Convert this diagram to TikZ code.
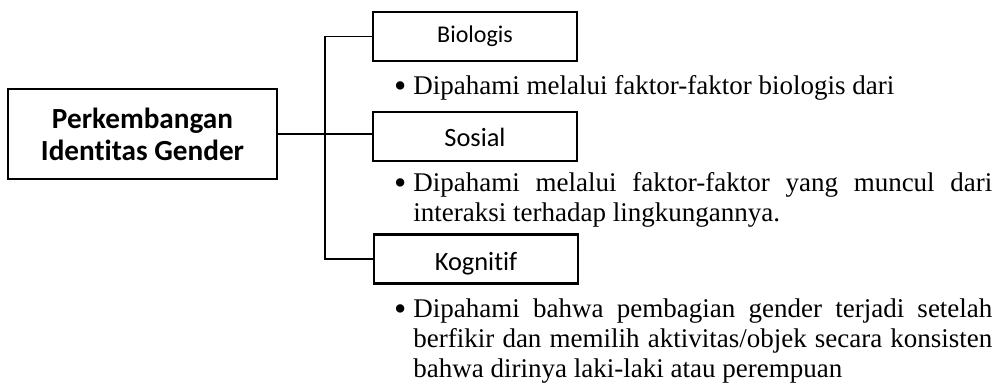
\documentclass[tikz,border=0pt]{standalone}
\usepackage{fontspec}
\setmainfont{Liberation Serif}
\newfontfamily\calibri[Ligatures=NoCommon]{Carlito}
\newcommand\nohyph{\hyphenpenalty=10000 \exhyphenpenalty=10000 }
\newcommand\mybul{\llap{\raisebox{-1.3pt}{\fontsize{17.5}{15}\selectfont\textbullet}\hspace{3.5pt}}}
\begin{document}
\begin{tikzpicture}[x=0.5pt,y=-0.5pt,
  mainbox/.style={draw,line width=1.25pt,minimum width=134.5pt,minimum height=45pt,inner sep=0pt,align=center,
    font=\calibri\bfseries\fontsize{14.6}{16}\selectfont},
  catbox/.style={draw,line width=1.25pt,minimum width=102pt,minimum height=24.5pt,inner sep=0pt,
    font=\calibri\fontsize{12}{14}\selectfont},
  catlabel/.style={anchor=base,inner sep=0pt,font=\calibri\fontsize{13.2}{14}\selectfont},
  conn/.style={line width=0.55pt},
  bullettext/.style={anchor=base west,inner sep=0pt,text width=289.5pt,align=justify,
    font=\fontsize{13.5}{15}\selectfont}]
\useasboundingbox (0,0) rectangle (1000,384);
\node[mainbox] (main) at (142.5,134) {Perkembangan\\Identitas Gender};
\node[catbox] (bio) at (475,36.5) {Biologis};
\node[catbox] (sos) at (475,136.5) {};
\node[catlabel] (sosl) at (475,147) {Sosial};
\node[catbox] (kog) at (476,259) {};
\begin{scope}
  \clip (376,236) rectangle (577,274.5);
  \node[catlabel] (kogl) at (476,271) {Kognitif};
\end{scope}
\coordinate (trunk) at (325,0);
\draw[conn] (main.east) -- (main.east -| sos.west);
\draw[conn] (bio.west) -- (bio.west -| trunk) -- (kog.west -| trunk) -- (kog.west);
\node[bullettext] (t1) at (413,95) {\nohyph\mybul Dipahami melalui faktor-faktor biologis dari};
\node[bullettext] (t2) at (413,192) {\nohyph\mybul Dipahami melalui faktor-faktor yang muncul dari\linebreak interaksi terhadap lingkungannya.};
\node[bullettext] (t3) at (413,318) {\nohyph\mybul Dipahami bahwa pembagian gender terjadi setelah\linebreak berfikir dan memilih aktivitas/objek secara konsisten\linebreak bahwa dirinya laki-laki atau perempuan};
\end{tikzpicture}
\end{document}
